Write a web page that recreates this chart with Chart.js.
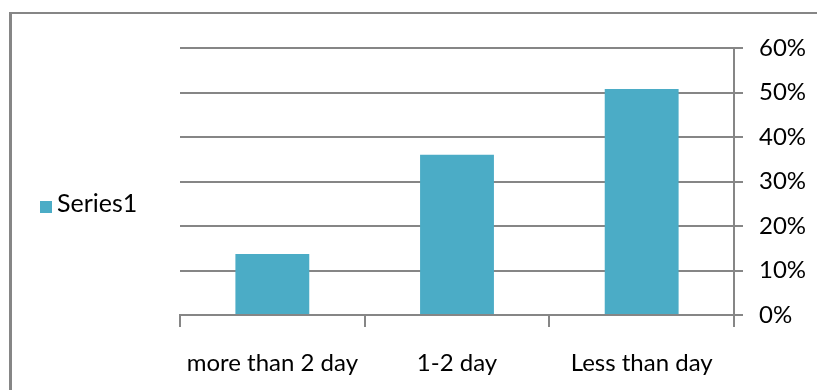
<!DOCTYPE html>
<html>
<head>
<meta charset="utf-8">
<script src="https://cdn.jsdelivr.net/npm/chart.js@4/dist/chart.umd.min.js"></script>
<style>
  html, body { margin: 0; padding: 0; background: #fff; }
  #wrap { position: relative; width: 817px; height: 390px; overflow: hidden; }
  #frame {
    position: absolute; left: 9px; top: 12px; width: 820px; height: 400px;
    border-left: 3px solid #868686; border-top: 2px solid #868686;
    box-sizing: border-box;
  }
  canvas { position: absolute; left: 0; top: 0; }
</style>
</head>
<body>
<div id="wrap">
  <div id="frame"></div>
  <canvas id="chart" width="817" height="390"></canvas>
</div>
<script>
// Time taken, share of responses per category
const categories = ['more than 2 day', '1-2 day', 'Less than day'];
const series1 = [13.7, 36.0, 50.8];
const yTicks = [0, 10, 20, 30, 40, 50, 60];
const seriesName = 'Series1';

const FONT = 'Lato, "Open Sans", sans-serif';
const GRID = '#868686';
const BAR = '#4bacc6';

// Simple legend drawn at the left of the plot
const sideLegend = {
  id: 'sideLegend',
  afterDraw(chart) {
    const ctx = chart.ctx;
    const ds = chart.data.datasets[0];
    ctx.save();
    ctx.fillStyle = ds.backgroundColor;
    ctx.fillRect(40, 201, 12, 12);
    ctx.fillStyle = '#000';
    ctx.font = '25px ' + FONT;
    ctx.textBaseline = 'middle';
    ctx.textAlign = 'left';
    ctx.fillText(ds.label, 57, 204);
    ctx.restore();
  }
};

new Chart(document.getElementById('chart'), {
  type: 'bar',
  data: {
    labels: categories,
    datasets: [{
      label: seriesName,
      data: series1,
      backgroundColor: BAR,
      borderWidth: 0,
      categoryPercentage: 0.8,
      barPercentage: 0.5
    }]
  },
  options: {
    responsive: false,
    animation: false,
    layout: { padding: { left: 180, top: 48, right: 0, bottom: 0 } },
    plugins: { legend: { display: false }, tooltip: { enabled: false } },
    scales: {
      x: {
        grid: {
          offset: true,
          drawOnChartArea: false,
          color: GRID,
          lineWidth: 2,
          tickLength: 12
        },
        border: { display: true, color: GRID, width: 2 },
        ticks: {
          color: '#000',
          font: { family: FONT, size: 24 },
          padding: 22,
          maxRotation: 0,
          autoSkip: false
        },
        afterFit(scale) { scale.height = 75; }
      },
      y: {
        position: 'right',
        min: 0,
        max: 60,
        afterBuildTicks(scale) { scale.ticks = yTicks.map(v => ({ value: v })); },
        grid: { color: GRID, lineWidth: 2, tickLength: 9 },
        border: { display: true, color: GRID, width: 2 },
        ticks: {
          color: '#000',
          font: { family: FONT, size: 24 },
          padding: 16,
          callback: v => v + '%'
        },
        afterFit(scale) { scale.width = 83; }
      }
    }
  },
  plugins: [sideLegend]
});
</script>
</body>
</html>
